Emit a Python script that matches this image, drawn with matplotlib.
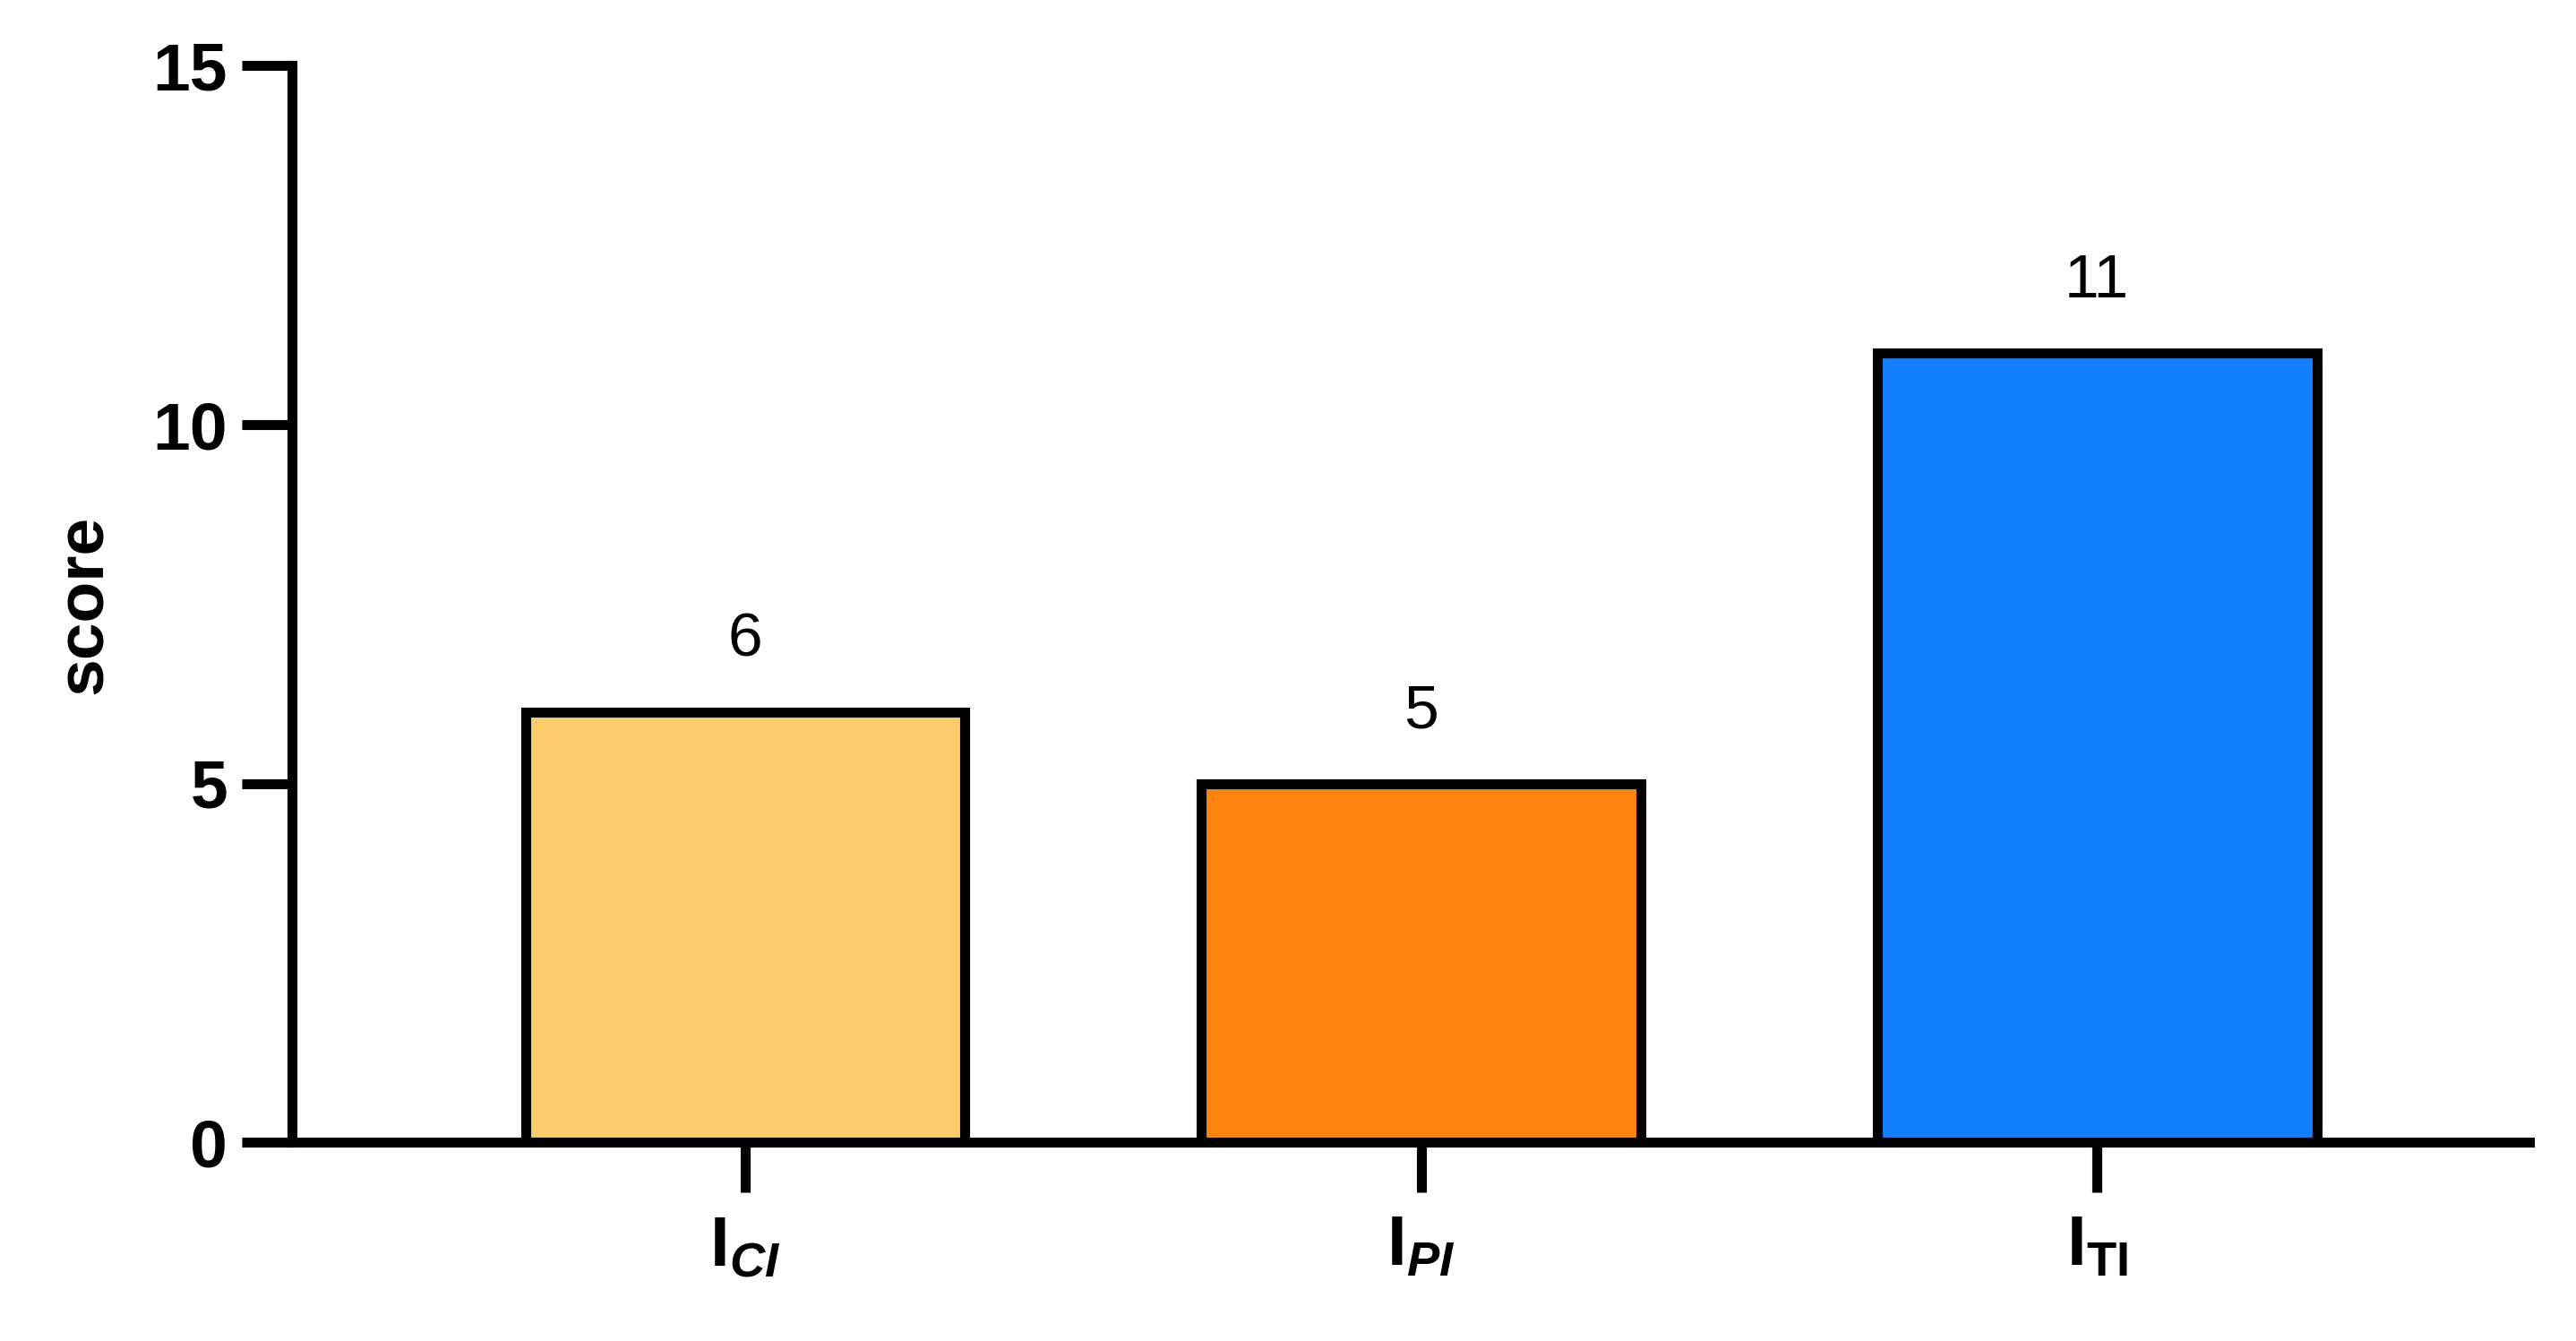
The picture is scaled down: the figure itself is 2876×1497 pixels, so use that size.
import matplotlib
matplotlib.use("Agg")
import matplotlib.pyplot as plt

# donnees
categories = [r"$\mathbf{I}_{\mathbfit{CI}}$", r"$\mathbf{I}_{\mathbfit{PI}}$", r"$\mathbf{I}_{\mathbf{TI}}$"]
scores = [6, 5, 11]
colors = ["#FCCB6B", "#FF830F", "#137FFF"]
yticks = [0, 5, 10, 15]

plt.rcParams["font.family"] = "Liberation Sans"
plt.rcParams["mathtext.fontset"] = "custom"
plt.rcParams["mathtext.rm"] = "Liberation Sans"
plt.rcParams["mathtext.bf"] = "Liberation Sans:bold"
plt.rcParams["mathtext.it"] = "Liberation Sans:italic"
plt.rcParams["mathtext.bfit"] = "Liberation Sans:bold:italic"

fig = plt.figure(figsize=(28.76, 14.97), dpi=100)
ax = fig.add_axes([0.1135, 0.148, 0.8685, 0.803])

x = range(len(scores))
ax.bar(x, scores, width=0.65, color=colors, edgecolor="black", linewidth=8, zorder=3)
for xi, v in zip(x, scores):
    ax.text(xi, v + 0.6, str(v), ha="center", va="bottom", fontsize=50)

ax.set_xlim(-0.67, 2.64)
ax.set_ylim(0, 15)
ax.set_yticks(yticks)
ax.set_yticklabels([str(t) for t in yticks], fontsize=54, fontweight="bold")
ax.set_xticks(list(x))
ax.set_xticklabels(categories, fontsize=56)
ax.set_ylabel("score", fontsize=54, fontweight="bold", labelpad=30)

for s in ["top", "right"]:
    ax.spines[s].set_visible(False)
for s in ["left", "bottom"]:
    ax.spines[s].set_linewidth(8)
ax.spines["left"].set_bounds(0, 15)
ax.tick_params(axis="both", width=8, length=40, pad=12)
ax.tick_params(axis="x", pad=18)

fig.savefig("out.png", dpi=100)
